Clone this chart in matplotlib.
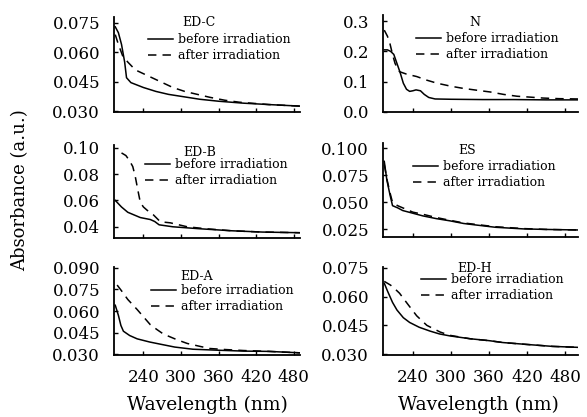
import matplotlib
matplotlib.use('Agg')
import matplotlib.pyplot as plt
from matplotlib.ticker import FormatStrFormatter
import numpy as np

plt.rcParams['font.family'] = 'DejaVu Serif'

# ---- data (wavelength nm, absorbance a.u.) ----
edc_bx = [195, 200, 205, 210, 213, 220, 240, 260, 280, 300, 330, 360, 400, 440, 490]
edc_by = [0.073, 0.070, 0.064, 0.055, 0.047, 0.0445, 0.042, 0.040, 0.0385, 0.0375, 0.036, 0.035, 0.034, 0.0333, 0.0325]
edc_ax = [195, 200, 207, 215, 227, 247, 267, 287, 306, 326, 346, 370, 393, 440, 490]
edc_ay = [0.069, 0.064, 0.058, 0.055, 0.051, 0.048, 0.045, 0.042, 0.040, 0.0385, 0.037, 0.0355, 0.0345, 0.0333, 0.0325]

n_bx = [195, 200, 205, 210, 215, 220, 225, 230, 235, 240, 245, 252, 258, 265, 275, 300, 350, 400, 450, 500]
n_by = [0.205, 0.205, 0.200, 0.19, 0.16, 0.13, 0.095, 0.075, 0.068, 0.070, 0.073, 0.070, 0.058, 0.048, 0.043, 0.042, 0.041, 0.041, 0.040, 0.040]
n_ax = [195, 200, 204, 208, 212, 219, 230, 246, 262, 278, 300, 319, 340, 362, 383, 404, 425, 445, 470, 500]
n_ay = [0.27, 0.25, 0.225, 0.19, 0.16, 0.133, 0.125, 0.117, 0.105, 0.095, 0.085, 0.078, 0.072, 0.066, 0.058, 0.052, 0.049, 0.046, 0.044, 0.043]

edb_bx = [195, 205, 215, 225, 235, 251, 258, 265, 287, 330, 380, 430, 490]
edb_by = [0.060, 0.055, 0.051, 0.049, 0.047, 0.0455, 0.044, 0.0415, 0.040, 0.0385, 0.037, 0.036, 0.0355]
edb_ax = [205, 212, 218, 223, 227, 231, 235, 240, 246, 256, 267, 283, 310, 340, 380, 430, 490]
edb_ay = [0.096, 0.094, 0.090, 0.0856, 0.078, 0.068, 0.0585, 0.055, 0.0525, 0.049, 0.0438, 0.043, 0.040, 0.0385, 0.037, 0.036, 0.0355]

es_bx = [195, 199, 204, 208, 216, 224, 240, 256, 277, 298, 320, 341, 370, 414, 450, 500]
es_by = [0.088, 0.071, 0.057, 0.047, 0.045, 0.0425, 0.040, 0.0375, 0.035, 0.033, 0.0305, 0.029, 0.027, 0.0255, 0.025, 0.0245]
es_ax = [195, 199, 204, 208, 216, 224, 240, 256, 277, 298, 320, 341, 370, 414, 450, 500]
es_ay = [0.085, 0.072, 0.059, 0.050, 0.047, 0.045, 0.041, 0.039, 0.036, 0.0335, 0.031, 0.0295, 0.0275, 0.0258, 0.025, 0.0245]

eda_bx = [195, 200, 204, 208, 218, 230, 250, 267, 290, 319, 360, 400, 440, 490]
eda_by = [0.064, 0.057, 0.050, 0.046, 0.043, 0.0407, 0.0385, 0.037, 0.035, 0.0335, 0.0328, 0.0322, 0.032, 0.031]
eda_ax = [198, 205, 215, 230, 240, 251, 262, 272, 294, 310, 330, 346, 370, 400, 440, 490]
eda_ay = [0.078, 0.074, 0.068, 0.061, 0.056, 0.0505, 0.047, 0.044, 0.040, 0.0375, 0.0355, 0.034, 0.0333, 0.0326, 0.032, 0.031]

edh_bx = [195, 200, 208, 215, 225, 235, 250, 267, 282, 298, 330, 360, 382, 420, 460, 500]
edh_by = [0.067, 0.063, 0.057, 0.053, 0.049, 0.0465, 0.044, 0.042, 0.0405, 0.0395, 0.038, 0.037, 0.036, 0.035, 0.034, 0.0335]
edh_ax = [195, 205, 212, 219, 231, 246, 262, 283, 298, 330, 360, 382, 420, 460, 500]
edh_ay = [0.068, 0.066, 0.064, 0.0618, 0.0565, 0.050, 0.045, 0.0415, 0.0398, 0.038, 0.037, 0.036, 0.035, 0.034, 0.0335]

xticks = [240, 300, 360, 420, 480]

# name, before, after, ylim, yticks, fmt, axes box (px), xmax + label pos (px), legend pos (px)
panels = [
    ('ED-C', (edc_bx, edc_by), (edc_ax, edc_ay), (0.0295, 0.078), [0.030, 0.045, 0.060, 0.075], '%.3f',
     (114, 17, 300, 112), (490, (199, 23)), (148, 33)),
    ('N', (n_bx, n_by), (n_ax, n_ay), (0.008, 0.32), [0.0, 0.1, 0.2, 0.3], '%.1f',
     (383, 15, 578, 112), (500, (475, 22)), (416, 32)),
    ('ED-B', (edb_bx, edb_by), (edb_ax, edb_ay), (0.0315, 0.102), [0.04, 0.06, 0.08, 0.10], '%.2f',
     (114, 145, 300, 238), (490, (200, 152)), (145, 158)),
    ('ES', (es_bx, es_by), (es_ax, es_ay), (0.018, 0.105), [0.025, 0.050, 0.075, 0.100], '%.3f',
     (383, 143, 578, 237), (500, (467, 150)), (413, 160)),
    ('ED-A', (eda_bx, eda_by), (eda_ax, eda_ay), (0.0295, 0.0905), [0.030, 0.045, 0.060, 0.075, 0.090], '%.3f',
     (114, 267, 300, 355), (490, (197, 277)), (151, 284)),
    ('ED-H', (edh_bx, edh_by), (edh_ax, edh_ay), (0.0295, 0.0755), [0.030, 0.045, 0.060, 0.075], '%.3f',
     (383, 267, 578, 355), (500, (475, 268)), (421, 273)),
]

W, H = 587, 417
fig = plt.figure(figsize=(W / 100, H / 100), dpi=100)

for i, (name, bef, aft, ylim, yt, fmt, box, (xmax, lab), leg) in enumerate(panels):
    x0, y0, x1, y1 = box
    ax = fig.add_axes([x0 / W, 1 - y1 / H, (x1 - x0) / W, (y1 - y0) / H])
    ax.plot(bef[0], bef[1], color='black', lw=1.1, label='before irradiation')
    ax.plot(aft[0], aft[1], color='black', lw=1.1, ls=(0, (5.5, 4)), label='after irradiation')
    ax.set_xlim(193, xmax)
    ax.set_ylim(*ylim)
    ax.set_xticks(xticks)
    ax.set_yticks(yt)
    ax.yaxis.set_major_formatter(FormatStrFormatter(fmt))
    for s in ['top', 'right']:
        ax.spines[s].set_visible(False)
    for s in ['left', 'bottom']:
        ax.spines[s].set_linewidth(1.3)
    ax.tick_params(direction='in', length=3, width=1, labelsize=12)
    ax.tick_params(axis='y', pad=10)
    ax.tick_params(axis='x', pad=10)
    if i < 4:
        ax.tick_params(labelbottom=False)
    fig.text(lab[0] / W, 1 - lab[1] / H, name, ha='center', va='center', fontsize=9)
    ax.legend(loc='upper left', bbox_to_anchor=(leg[0] / W, 1 - leg[1] / H),
              bbox_transform=fig.transFigure, frameon=False, fontsize=9,
              handlelength=2.0, handletextpad=0.4, labelspacing=0.25,
              borderpad=0, borderaxespad=0)

fig.text(20 / W, 1 - 190 / H, 'Absorbance (a.u.)', rotation=90, ha='center', va='center', fontsize=13)
fig.text(207 / W, 1 - 405 / H, 'Wavelength (nm)', ha='center', va='center', fontsize=13.5)
fig.text(478 / W, 1 - 405 / H, 'Wavelength (nm)', ha='center', va='center', fontsize=13.5)

fig.savefig('out.png', dpi=100)
